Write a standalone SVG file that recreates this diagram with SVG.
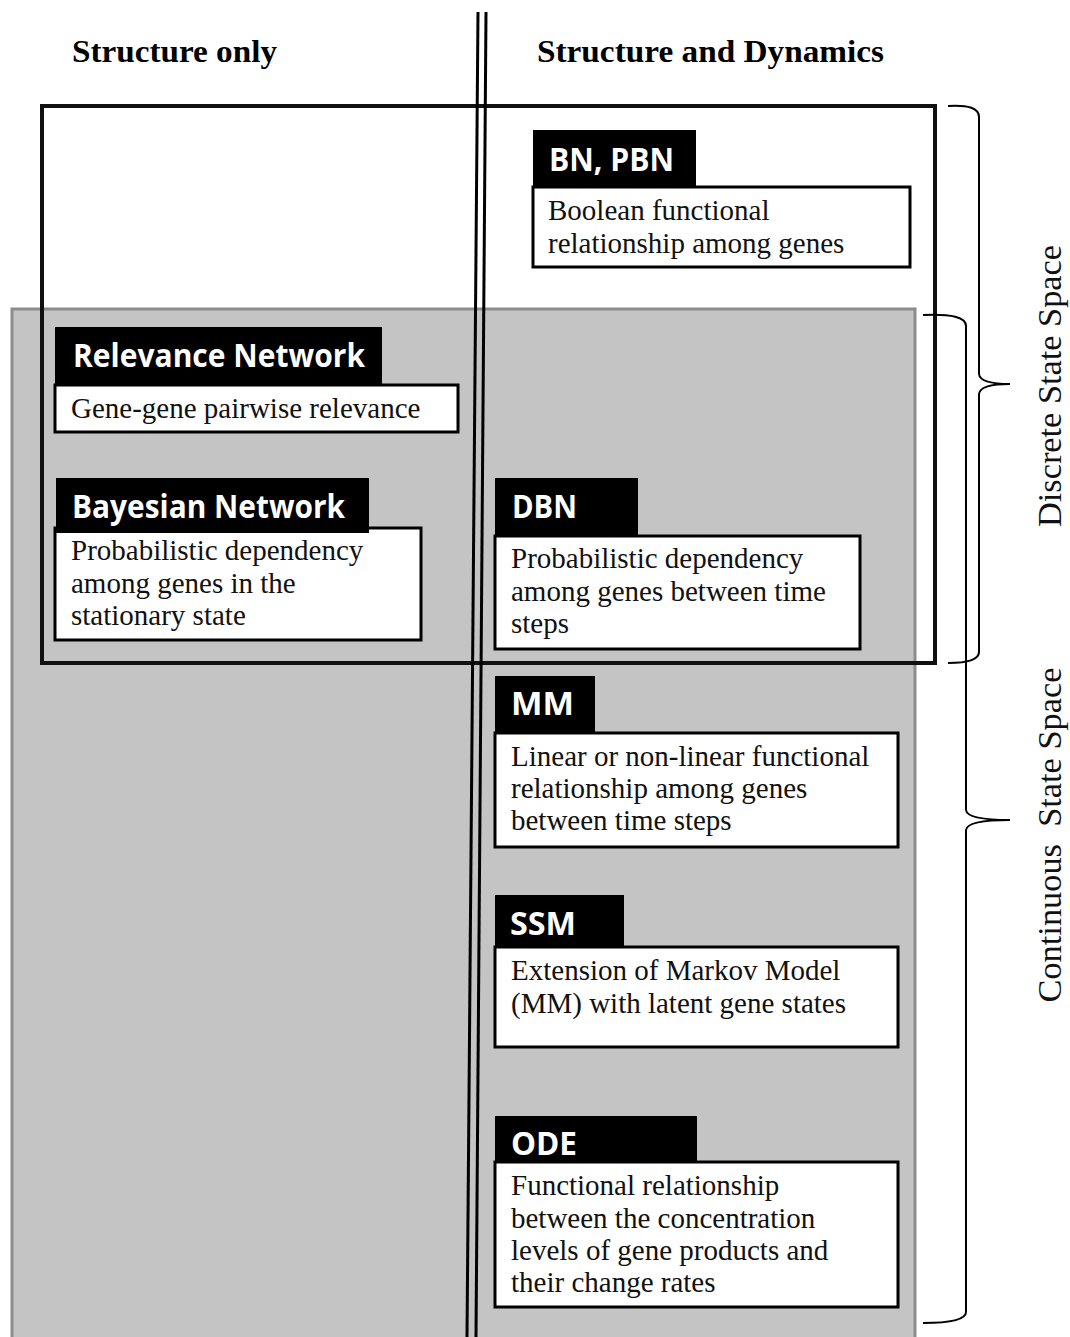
<svg xmlns="http://www.w3.org/2000/svg" width="1070" height="1337" viewBox="0 0 1070 1337">
<style>
.title{font-family:"Liberation Serif","Times New Roman",serif;font-weight:bold;font-size:32px;fill:#000}
.hdr{fill:#000}
.hdrtxt{font-family:"Open Sans","DejaVu Sans",sans-serif;font-weight:700;font-size:32px;fill:#fff}
.body{fill:#fff;stroke:#000;stroke-width:3}
.btxt{font-family:"Liberation Serif","Times New Roman",serif;font-size:29px;fill:#111}
.brace{fill:none;stroke:#000;stroke-width:2}
.side{font-family:"Liberation Serif","Times New Roman",serif;font-size:34px;fill:#111}
</style>
<rect width="1070" height="1337" fill="#fff"/>
<!-- continuous region (grey) -->
<rect id="continuous-region" x="12" y="309" width="903" height="1040" fill="#c4c4c4" stroke="#8c8c8c" stroke-width="3"/>
<!-- discrete region (black outline) -->
<rect id="discrete-region" x="42" y="106" width="893" height="557" fill="none" stroke="#111" stroke-width="4"/>
<!-- column divider -->
<g id="divider" stroke="#000" stroke-width="3">
<line x1="478" y1="12" x2="467" y2="1337"/>
<line x1="486" y1="12" x2="476" y2="1337"/>
</g>
<text class="title" x="72" y="62" textLength="205" lengthAdjust="spacingAndGlyphs">Structure only</text>
<text class="title" x="537" y="62" textLength="347" lengthAdjust="spacingAndGlyphs">Structure and Dynamics</text>

<g id="bn-pbn">
<rect class="body" x="533" y="187" width="377" height="80"/>
<rect class="hdr" x="533" y="130" width="163" height="58"/>
<text class="hdrtxt" x="549" y="171" textLength="125" lengthAdjust="spacingAndGlyphs">BN, PBN</text>
<text class="btxt" x="548" y="220">Boolean functional</text>
<text class="btxt" x="548" y="253">relationship among genes</text>
</g>

<g id="relevance-network">
<rect class="body" x="55" y="385" width="403" height="47"/>
<rect class="hdr" x="55" y="327" width="327" height="59"/>
<text class="hdrtxt" x="73" y="367" textLength="292" lengthAdjust="spacingAndGlyphs">Relevance Network</text>
<text class="btxt" x="71" y="418">Gene-gene pairwise relevance</text>
</g>

<g id="bayesian-network">
<rect class="body" x="55" y="528" width="366" height="112"/>
<rect class="hdr" x="56" y="478" width="313" height="55"/>
<text class="hdrtxt" x="72" y="518" textLength="273" lengthAdjust="spacingAndGlyphs">Bayesian Network</text>
<text class="btxt" x="71" y="560">Probabilistic dependency</text>
<text class="btxt" x="71" y="593">among genes in the</text>
<text class="btxt" x="71" y="625">stationary state</text>
</g>

<g id="dbn">
<rect class="body" x="495" y="536" width="365" height="113"/>
<rect class="hdr" x="495" y="478" width="143" height="59"/>
<text class="hdrtxt" x="512" y="518" textLength="65" lengthAdjust="spacingAndGlyphs">DBN</text>
<text class="btxt" x="511" y="568">Probabilistic dependency</text>
<text class="btxt" x="511" y="601">among genes between time</text>
<text class="btxt" x="511" y="633">steps</text>
</g>

<g id="mm">
<rect class="body" x="495" y="733" width="403" height="114"/>
<rect class="hdr" x="495" y="676" width="100" height="58"/>
<text class="hdrtxt" x="511" y="715" textLength="63" lengthAdjust="spacingAndGlyphs">MM</text>
<text class="btxt" x="511" y="766">Linear or non-linear functional</text>
<text class="btxt" x="511" y="798">relationship among genes</text>
<text class="btxt" x="511" y="830">between time steps</text>
</g>

<g id="ssm">
<rect class="body" x="495" y="947" width="403" height="100"/>
<rect class="hdr" x="495" y="895" width="129" height="53"/>
<text class="hdrtxt" x="510" y="935" textLength="66" lengthAdjust="spacingAndGlyphs">SSM</text>
<text class="btxt" x="511" y="980">Extension of Markov Model</text>
<text class="btxt" x="511" y="1013">(MM) with latent gene states</text>
</g>

<g id="ode">
<rect class="body" x="495" y="1162" width="403" height="145"/>
<rect class="hdr" x="495" y="1116" width="202" height="47"/>
<text class="hdrtxt" x="511" y="1155" textLength="66" lengthAdjust="spacingAndGlyphs">ODE</text>
<text class="btxt" x="511" y="1195">Functional relationship</text>
<text class="btxt" x="511" y="1228">between the concentration</text>
<text class="btxt" x="511" y="1260">levels of gene products and</text>
<text class="btxt" x="511" y="1292">their change rates</text>
</g>

<g id="connectors">
<path class="brace" d="M948 106 Q979 104 979 117 L979 374 Q980 384 1010 384 Q980 384 979 394 L979 652 Q979 663 948 663"/>
<path class="brace" d="M923 315 Q966 313 966 326 L966 810 Q967 820 1010 820 Q967 820 966 830 L966 1312 Q966 1323 923 1323"/>
</g>
<text class="side" transform="translate(1061 386) rotate(-90)" text-anchor="middle" textLength="282" lengthAdjust="spacingAndGlyphs">Discrete State Space</text>
<text class="side" transform="translate(1061 835) rotate(-90)" text-anchor="middle" textLength="335" lengthAdjust="spacingAndGlyphs" xml:space="preserve">Continuous  State Space</text>
</svg>
